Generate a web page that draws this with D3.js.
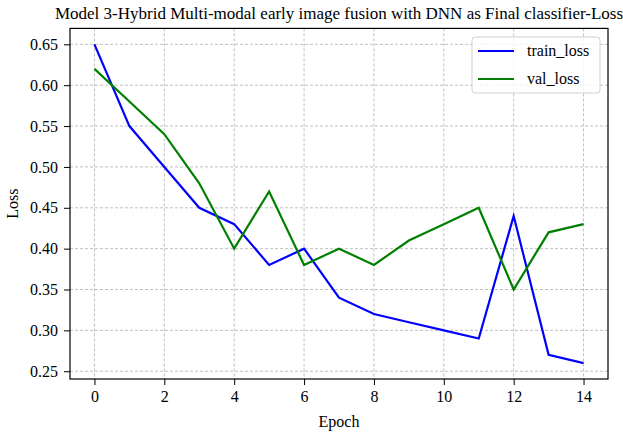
<!DOCTYPE html>
<html>
<head>
<meta charset="utf-8">
<script src="https://cdn.jsdelivr.net/npm/d3@7"></script>
<style>
  body { margin: 0; background: #fff; }
  text { font-family: "Liberation Serif", "DejaVu Serif", serif; fill: #000; }
</style>
</head>
<body>
<svg id="viz" width="623" height="438"></svg>
<script>
var epochs = [0, 1, 2, 3, 4, 5, 6, 7, 8, 9, 10, 11, 12, 13, 14];
var trainLoss = [0.65, 0.55, 0.50, 0.45, 0.43, 0.38, 0.40, 0.34, 0.32, 0.31, 0.30, 0.29, 0.44, 0.27, 0.26];
var valLoss = [0.62, 0.58, 0.54, 0.48, 0.40, 0.47, 0.38, 0.40, 0.38, 0.41, 0.43, 0.45, 0.35, 0.42, 0.43];
var xTicks = [0, 2, 4, 6, 8, 10, 12, 14];
var yTicks = [0.25, 0.30, 0.35, 0.40, 0.45, 0.50, 0.55, 0.60, 0.65];
var seriesNames = ["train_loss", "val_loss"];
var seriesColors = ["#0000ff", "#008000"];

var plotL = 70, plotR = 608, plotT = 28.4, plotB = 379;
var svg = d3.select("#viz");

var x = d3.scaleLinear().domain([-0.7, 14.7]).range([plotL, plotR]);
var y = d3.scaleLinear().domain([0.2405, 0.6695]).range([plotB, plotT]);

// grid
var grid = svg.append("g");
xTicks.forEach(function (t) {
    grid.append("line")
        .attr("x1", x(t)).attr("x2", x(t))
        .attr("y1", plotT).attr("y2", plotB)
        .attr("stroke", "#b0b0b0").attr("stroke-width", 0.8)
        .attr("stroke-dasharray", "3,2");
});
yTicks.forEach(function (t) {
    grid.append("line")
        .attr("x1", plotL).attr("x2", plotR)
        .attr("y1", y(t)).attr("y2", y(t))
        .attr("stroke", "#b0b0b0").attr("stroke-width", 0.8)
        .attr("stroke-dasharray", "3,2");
});

// lines
var line = d3.line()
    .x(function (d, i) { return x(epochs[i]); })
    .y(function (d) { return y(d); });

[trainLoss, valLoss].forEach(function (s, i) {
    svg.append("path")
        .datum(s)
        .attr("d", line)
        .attr("fill", "none")
        .attr("stroke", seriesColors[i])
        .attr("stroke-width", 2.2)
        .attr("stroke-linejoin", "miter");
});

// axes
var xAxis = svg.append("g")
    .attr("transform", "translate(0," + plotB + ")")
    .call(d3.axisBottom(x).tickValues(xTicks).tickSize(6).tickPadding(6).tickFormat(d3.format("d")));
var yAxis = svg.append("g")
    .attr("transform", "translate(" + plotL + ",0)")
    .call(d3.axisLeft(y).tickValues(yTicks).tickSize(6).tickPadding(6).tickFormat(d3.format(".2f")));
[xAxis, yAxis].forEach(function (a) {
    a.select(".domain").remove();
    a.selectAll("line").attr("stroke", "#000").attr("stroke-width", 1);
    a.selectAll("text").style("font-size", "16px")
        .style("font-family", "'Liberation Serif', serif");
});

// frame
svg.append("rect")
    .attr("x", plotL).attr("y", plotT)
    .attr("width", plotR - plotL).attr("height", plotB - plotT)
    .attr("fill", "none").attr("stroke", "#000").attr("stroke-width", 1.2);

// labels
svg.append("text")
    .attr("x", (plotL + plotR) / 2).attr("y", 19)
    .attr("text-anchor", "middle")
    .style("font-size", "17px")
    .text("Model 3-Hybrid Multi-modal early image fusion with DNN as Final classifier-Loss");
svg.append("text")
    .attr("x", (plotL + plotR) / 2).attr("y", 427)
    .attr("text-anchor", "middle")
    .style("font-size", "16px")
    .text("Epoch");
svg.append("text")
    .attr("transform", "translate(18," + ((plotT + plotB) / 2) + ") rotate(-90)")
    .attr("text-anchor", "middle")
    .style("font-size", "16px")
    .text("Loss");

// legend
var lg = svg.append("g").attr("transform", "translate(472,37)");
lg.append("rect")
    .attr("width", 128).attr("height", 56).attr("rx", 3)
    .attr("fill", "#fff").attr("fill-opacity", 0.8)
    .attr("stroke", "#d0d0d0").attr("stroke-width", 1);
seriesNames.forEach(function (n, i) {
    var yy = 14 + i * 28;
    lg.append("line")
        .attr("x1", 6).attr("x2", 42).attr("y1", yy).attr("y2", yy)
        .attr("stroke", seriesColors[i]).attr("stroke-width", 2.2);
    lg.append("text")
        .attr("x", 55).attr("y", yy + 5)
        .style("font-size", "16px")
        .text(n);
});
</script>
</body>
</html>
